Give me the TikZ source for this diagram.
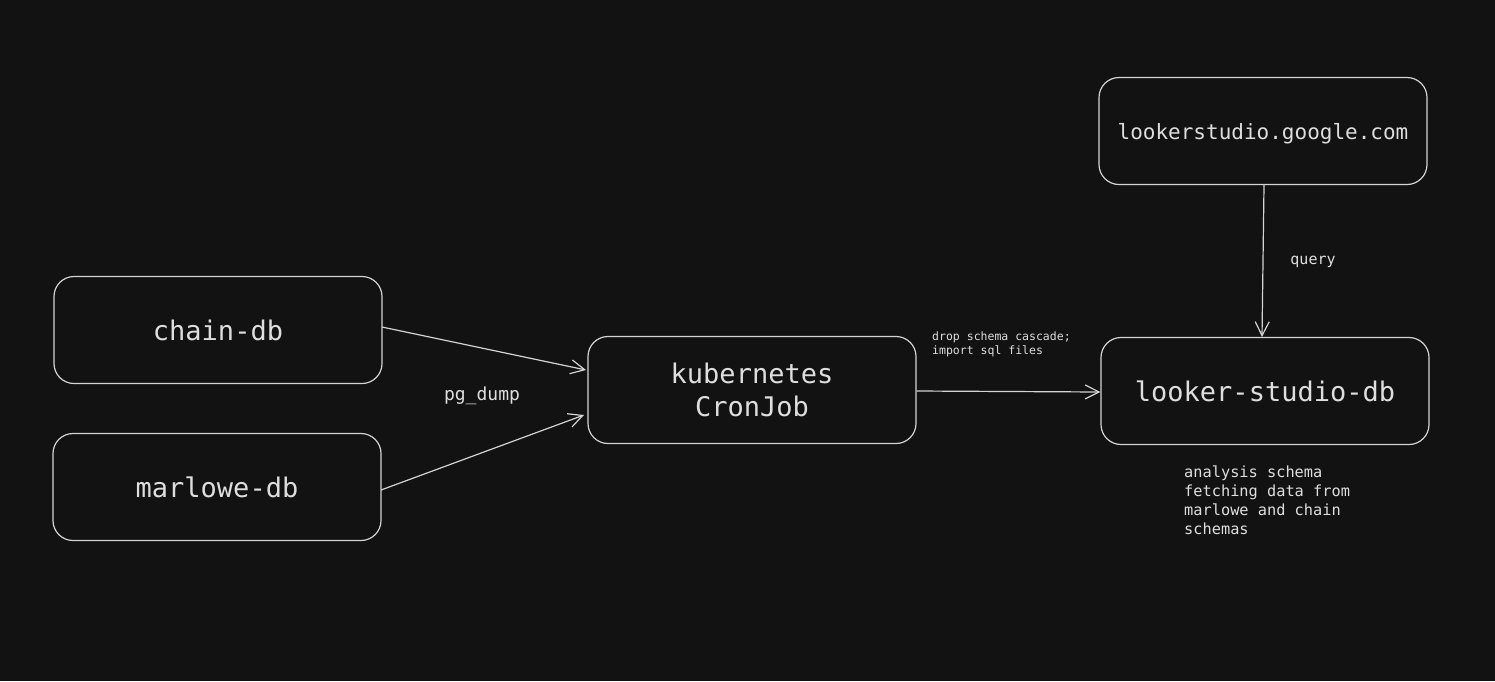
\documentclass[tikz,border=0pt]{standalone}
\usepackage{fontspec}
\setmonofont{DejaVu Sans Mono}
\usetikzlibrary{arrows.meta}
\definecolor{bg}{HTML}{121212}
\definecolor{ink}{HTML}{D4D4D4}
\definecolor{txt}{HTML}{DEDEDE}
\tikzset{
  box/.style={draw=ink, line width=1.2pt, rounded corners=20pt, minimum width=328pt, minimum height=107pt, inner sep=0pt, text=txt, font=\ttfamily\fontsize{27}{33}\selectfont, align=center},
  conn/.style={draw=ink, line width=1.2pt, -{Straight Barb[length=14pt,width=14pt,line width=1.2pt]}},
  lbl/.style={text=txt, inner sep=0pt, align=left},
}
\begin{document}
\begin{tikzpicture}[x=1pt,y=-1pt]
\fill[bg] (0,0) rectangle (1495,681);
\useasboundingbox (0,0) rectangle (1495,681);
\node[box] (chain) at (218,330) {chain-db};
\node[box] (marlowe) at (217,487) {marlowe-db};
\node[box] (cron) at (752,390) {kubernetes\\CronJob};
\node[box, font=\ttfamily\fontsize{21}{26}\selectfont, text height=22pt, text depth=5pt] (looker) at (1263,131) {lookerstudio.google.com};
\node[box] (lsdb) at (1265,391) {looker-studio-db};
\coordinate (c1) at (382,327);
\coordinate (c2) at (586,370);
\coordinate (m1) at (381,490);
\coordinate (m2) at (584,415);
\draw[conn] (c1) -- (c2);
\draw[conn] (m1) -- (m2);
\draw[conn] (cron.east |- 0,391) -- (lsdb.west |- 0,392);
\draw[conn] (1264,185) -- (1262,337);
\node[lbl, font=\ttfamily\fontsize{18}{22}\selectfont] (pg) at (482,396) {pg\_dump};
\node[lbl, font=\ttfamily\fontsize{15}{19}\selectfont] (q) at (1313,262) {query};
\node[lbl, anchor=north west, font=\ttfamily\fontsize{11.5}{13.5}\selectfont] (drop) at (932,332) {drop schema cascade;\\import sql files};
\node[lbl, anchor=north west, font=\ttfamily\fontsize{15.3}{19}\selectfont] (an) at (1184,466) {analysis schema\\fetching data from\\marlowe and chain\\schemas};
\end{tikzpicture}
\end{document}
